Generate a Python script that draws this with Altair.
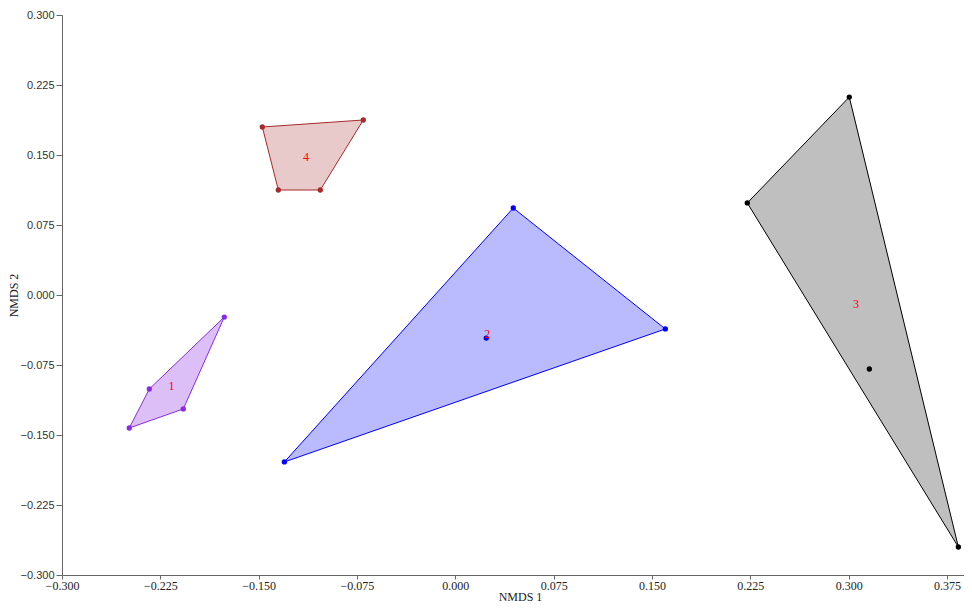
import altair as alt
import pandas as pd

# NMDS coordinates per group (hull order first, interior points last)
g1_x = [-0.1762, -0.2075, -0.2487, -0.2334]
g1_y = [-0.0236, -0.1221, -0.1425, -0.1007]
g1_hull = [0, 1, 2, 3]

g2_x = [0.0442, 0.1602, -0.1304, 0.0236]
g2_y = [0.0932, -0.0364, -0.1789, -0.0461]
g2_hull = [0, 1, 2]

g3_x = [0.3005, 0.3837, 0.2227, 0.3158]
g3_y = [0.2121, -0.2700, 0.0986, -0.0793]
g3_hull = [0, 1, 2]

g4_x = [-0.1472, -0.0702, -0.1030, -0.1350]
g4_y = [0.1800, 0.1875, 0.1125, 0.1125]
g4_hull = [0, 1, 2, 3]

groups = ["1", "2", "3", "4"]
stroke_colors = ["#8a2be2", "#0000ff", "#000000", "#a52a2a"]
fill_colors = ["#8a2be2", "#0000ff", "#808080", "#a52a2a"]
fill_opacity = [0.3, 0.27, 0.5, 0.25]

x_ticks = [-0.3, -0.225, -0.15, -0.075, 0.0, 0.075, 0.15, 0.225, 0.3, 0.375]
y_ticks = [-0.3, -0.225, -0.15, -0.075, 0.0, 0.075, 0.15, 0.225, 0.3]
x_domain = [-0.3, 0.388]
y_domain = [-0.3, 0.3]

all_x = [g1_x, g2_x, g3_x, g4_x]
all_y = [g1_y, g2_y, g3_y, g4_y]
all_hull = [g1_hull, g2_hull, g3_hull, g4_hull]

pts_rows, hull_rows = [], []
for g, xs_, ys_, hull in zip(groups, all_x, all_y, all_hull):
    for xv, yv in zip(xs_, ys_):
        pts_rows.append({"group": g, "x": xv, "y": yv})
    for k, i in enumerate(hull + [hull[0]]):
        hull_rows.append({"group": g, "x": xs_[i], "y": ys_[i], "idx": k})

pts = pd.DataFrame(pts_rows)
hull_df = pd.DataFrame(hull_rows)

xs = alt.Scale(domain=x_domain, nice=False, zero=False)
ys = alt.Scale(domain=y_domain, nice=False, zero=False)

x_axis = alt.Axis(values=x_ticks, format=".3f", title="NMDS 1", grid=False,
                  labelFont="Liberation Serif", labelFontSize=12, labelColor="#222",
                  titleFont="Liberation Serif", titleFontSize=12, titleFontWeight="normal",
                  titleColor="#222", tickSize=4, labelPadding=1, titlePadding=0,
                  titleX=458, titleAnchor="middle",
                  domainColor="#666", tickColor="#666", labelFlush=False, labelOverlap=False)
y_axis = alt.Axis(values=y_ticks, format=".3f", title="NMDS 2", grid=False,
                  labelFont="Liberation Sans", labelFontSize=11, labelColor="#333",
                  titleFont="Liberation Serif", titleFontSize=12, titleFontWeight="normal",
                  titleColor="#222", tickSize=6, labelPadding=2, titlePadding=0,
                  domainColor="#666", tickColor="#666", labelFlush=False, labelOverlap=False)

layers = []
for g, sc, fc, fo in zip(groups, stroke_colors, fill_colors, fill_opacity):
    poly = alt.Chart(hull_df[hull_df.group == g]).mark_line(
        stroke=sc, strokeWidth=1, fill=fc, fillOpacity=fo
    ).encode(
        x=alt.X("x:Q", scale=xs, axis=x_axis),
        y=alt.Y("y:Q", scale=ys, axis=y_axis),
        order="idx:Q",
    )
    dots = alt.Chart(pts[pts.group == g]).mark_circle(size=28, opacity=1, color=sc).encode(
        x=alt.X("x:Q", scale=xs),
        y=alt.Y("y:Q", scale=ys),
    )
    layers += [poly, dots]

labels = alt.Chart(pts).mark_text(color="red", font="Liberation Serif", fontSize=12).encode(
    x=alt.X("mean(x):Q", scale=xs),
    y=alt.Y("mean(y):Q", scale=ys),
    text="group:N",
    detail="group:N",
)
layers.append(labels)

chart = alt.layer(*layers).properties(
    width=902, height=560,
    autosize=alt.AutoSizeParams(type="none"),
    padding={"left": 54, "top": 7, "right": 0, "bottom": 29},
).configure_view(stroke=None)

chart.save("out.html", embed_options={"renderer": "svg", "actions": False})
